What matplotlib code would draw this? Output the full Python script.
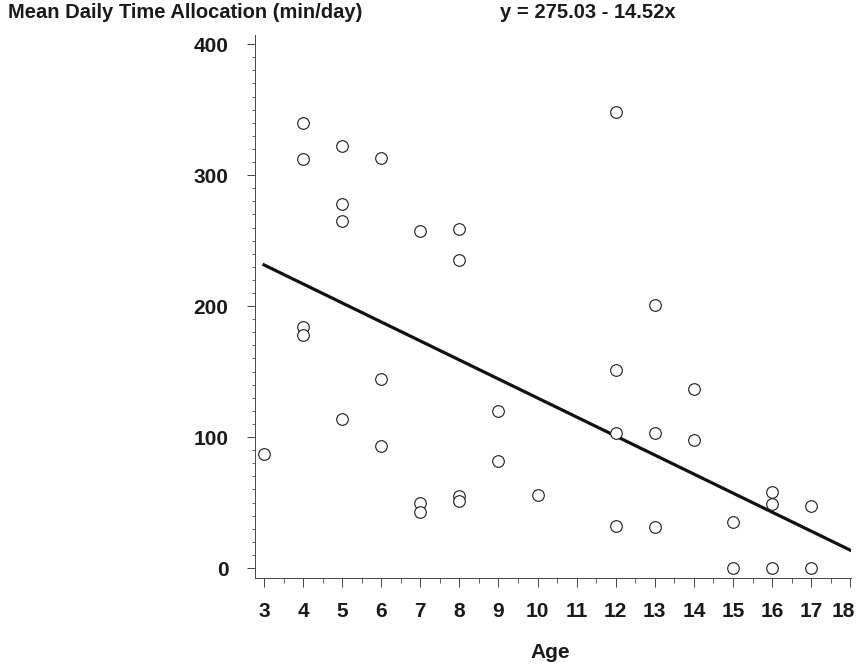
import matplotlib
matplotlib.use("Agg")
import matplotlib.pyplot as plt
import matplotlib.transforms as mtransforms
import numpy as np
from matplotlib.ticker import MultipleLocator

plt.rcParams['font.family'] = ['Liberation Sans', 'DejaVu Sans']

ages = [3, 4, 4, 4, 4, 5, 5, 5, 5, 6, 6, 6, 7, 7, 7, 8, 8, 8, 8, 9, 9, 10,
        12, 12, 12, 12, 13, 13, 13, 14, 14, 15, 15, 16, 16, 16, 17, 17]
minutes = [87, 340, 312, 184, 178, 322, 278, 265, 114, 313, 144, 93, 257, 50, 43,
           259, 235, 55, 51, 120, 82, 56,
           348, 151, 103, 32, 201, 103, 31, 137, 98, 35, 0, 58, 49, 0, 47, 0]
intercept = 275.03
slope = -14.52
fit_range = [3, 18]
title_text = "Mean Daily Time Allocation (min/day)"
eq_text = "y = 275.03 - 14.52x"
xlabel_text = "Age"

text_color = "#1a1a1a"

fig = plt.figure(figsize=(8.6, 6.66), dpi=100)
ax = fig.add_axes([255/860, 1-578/666, (851-255)/860, (578-35)/666])

ax.scatter(ages, minutes, s=70, facecolors='white', edgecolors=text_color,
           linewidths=0.8, zorder=3)
xf = np.array(fit_range, dtype=float)
ax.plot(xf, intercept + slope * xf, color="#111111", linewidth=2.3, zorder=2)

ax.set_xlim(2.77, 18.02)
ax.set_ylim(-7.6, 407)

for s in ['top', 'right']:
    ax.spines[s].set_visible(False)
for s in ['left', 'bottom']:
    ax.spines[s].set_linewidth(0.7)
    ax.spines[s].set_color('#444444')

ax.xaxis.set_minor_locator(MultipleLocator(0.5))
ax.yaxis.set_minor_locator(MultipleLocator(10))
ax.set_xticks([3, 4, 5, 6, 7, 8, 9, 10, 11, 12, 13, 14, 15, 16, 17, 18])
ax.set_yticks([0, 100, 200, 300, 400])

ax.tick_params(axis='both', which='major', direction='out', width=0.7,
               color='#444444', labelsize=15, labelcolor=text_color)
ax.tick_params(axis='y', which='major', length=6, pad=13)
ax.tick_params(axis='x', which='major', length=6.5, pad=11)
ax.tick_params(axis='y', which='minor', length=2.5, width=0.6, color='#444444')
ax.tick_params(axis='x', which='minor', length=3.5, width=0.6, color='#444444')
for lab in ax.get_xticklabels() + ax.get_yticklabels():
    lab.set_fontweight('bold')

# nudge the last x tick label left so it stays inside the figure
last = ax.get_xticklabels()[-1]
last.set_transform(last.get_transform() +
                   mtransforms.ScaledTranslation(-7/100, 0, fig.dpi_scale_trans))

fig.text(8/860, 1-3/666, title_text, ha='left', va='top', fontsize=14.5,
         fontweight='bold', color=text_color)
fig.text(500/860, 1-3/666, eq_text, ha='left', va='top', fontsize=14.5,
         fontweight='bold', color=text_color)
fig.text(550/860, 1-653/666, xlabel_text, ha='center', va='center', fontsize=15,
         fontweight='bold', color=text_color)

fig.savefig("out.png", dpi=100, facecolor='white')
